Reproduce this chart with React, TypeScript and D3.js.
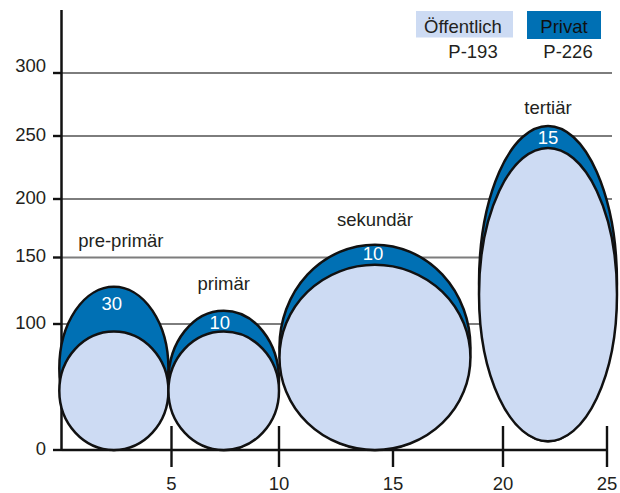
import React from "react";
import * as d3 from "d3";

// ---------- data ----------
const categories = ["pre-primär", "primär", "sekundär", "tertiär"];
const spanStart = [-0.1, 4.86, 10.02, 18.91];
const spanEnd = [4.86, 10.0, 18.52, 25.48];
const baseValues = [0, 0, 0, 7];
const publicValues = [94, 94, 144.5, 240.5];
const totalValues = [128, 110, 161, 258];
const privateShares = [30, 10, 10, 15];
const yTicks = [0, 100, 150, 200, 250, 300];
const xTicks = [5, 10, 15, 20, 25];
const legendLabels = ["Öffentlich", "Privat"];
const legendCodes = ["P-193", "P-226"];

// ---------- layout ----------
const W = 620;
const H = 493;
const xDomain = [0, 5, 10, 15, 20, 25];
const xRange = [61.5, 171.5, 279, 393, 503, 607];
const yDomain = [0, 100, 150, 200, 250, 300];
const yRange = [450, 324, 257.5, 199, 136, 73];
const catLabelGap = [40, 21, 19, 12];
const catLabelDx = [7, 0, 0, 0];
const shareDx = [-2, -4, -2, 0];
const shareDy = [-5, 2, -1, 1];
const yLabelDy: Record<number, number> = { 300: -6 };

const BLUE = "#0070B4";
const LIGHT = "#CDDBF3";
const INK = "#231F20";
const GRID = "#7d7d7d";
const FONT = "'Liberation Sans', Arial, Helvetica, sans-serif";
const FS = 18.5;

export default function App() {
  const x = d3.scaleLinear().domain(xDomain).range(xRange);
  const y = d3.scaleLinear().domain(yDomain).range(yRange);
  const gridEnd = 612;

  const shapes = categories.map((c, i) => {
    const x0 = x(spanStart[i]);
    const x1 = x(spanEnd[i]);
    const cx = (x0 + x1) / 2;
    const rx = (x1 - x0) / 2;
    const bottom = y(baseValues[i]);
    const tTop = y(totalValues[i]);
    const pTop = y(publicValues[i]);
    return {
      c,
      cx,
      rx,
      outer: { cy: (tTop + bottom) / 2, ry: (bottom - tTop) / 2 },
      inner: { cy: (pTop + bottom) / 2, ry: (bottom - pTop) / 2 },
      tTop,
      pTop,
    };
  });

  return (
    <svg
      width={W}
      height={H}
      viewBox={`0 0 ${W} ${H}`}
      style={{ position: "absolute", left: 0, top: 0, background: "#fff" }}
      fontFamily={FONT}
    >
      {/* gridlines */}
      {yTicks
        .filter((t) => t > 0)
        .map((t) => (
          <line key={"g" + t} x1={x(0)} x2={gridEnd} y1={y(t)} y2={y(t)} stroke={GRID} strokeWidth={2} />
        ))}
      {/* y ticks */}
      {yTicks.map((t) => (
        <line key={"yt" + t} x1={53} x2={x(0)} y1={y(t)} y2={y(t)} stroke="#111" strokeWidth={2.4} />
      ))}
      {yTicks.map((t) => (
        <text
          key={"yl" + t}
          x={46}
          y={y(t) + 4.5 + (yLabelDy[t] || 0)}
          textAnchor="end"
          fontSize={FS}
          fill={INK}
        >
          {t}
        </text>
      ))}
      {/* x ticks */}
      {xTicks.map((t) => (
        <line key={"xt" + t} x1={x(t)} x2={x(t)} y1={426} y2={467} stroke="#111" strokeWidth={2.4} />
      ))}
      {xTicks.map((t) => (
        <text key={"xl" + t} x={x(t)} y={490} textAnchor="middle" fontSize={FS} fill={INK}>
          {t}
        </text>
      ))}
      {/* axes */}
      <line x1={x(0)} x2={x(0)} y1={10} y2={451} stroke="#111" strokeWidth={2.5} />
      <line x1={x(0)} x2={x(25)} y1={y(0)} y2={y(0)} stroke="#111" strokeWidth={2.5} />

      {/* ellipses */}
      {shapes.map((s, i) => (
        <g key={"e" + i}>
          <ellipse cx={s.cx} cy={s.outer.cy} rx={s.rx} ry={s.outer.ry} fill={BLUE} stroke="#111" strokeWidth={2.5} />
          <ellipse cx={s.cx} cy={s.inner.cy} rx={s.rx} ry={s.inner.ry} fill={LIGHT} stroke="#111" strokeWidth={2.5} />
        </g>
      ))}

      {/* share labels */}
      {shapes.map((s, i) => (
        <text
          key={"s" + i}
          x={s.cx + shareDx[i]}
          y={(s.tTop + s.pTop) / 2 + 6 + shareDy[i]}
          textAnchor="middle"
          fontSize={FS}
          fill="#fff"
        >
          {privateShares[i]}
        </text>
      ))}
      {/* category labels */}
      {shapes.map((s, i) => (
        <text
          key={"c" + i}
          x={s.cx + catLabelDx[i]}
          y={s.tTop - catLabelGap[i]}
          textAnchor="middle"
          fontSize={FS}
          fill={INK}
        >
          {s.c}
        </text>
      ))}

      {/* legend */}
      <rect x={416} y={11} width={97} height={26.5} fill={LIGHT} />
      <rect x={527} y={11} width={74} height={28} fill={BLUE} />
      <text x={463} y={33} textAnchor="middle" fontSize={FS} fill={INK}>
        {legendLabels[0]}
      </text>
      <text x={564} y={33} textAnchor="middle" fontSize={FS} fill="#111">
        {legendLabels[1]}
      </text>
      <text x={473} y={57.5} textAnchor="middle" fontSize={FS} fill={INK}>
        {legendCodes[0]}
      </text>
      <text x={568} y={57.5} textAnchor="middle" fontSize={FS} fill={INK}>
        {legendCodes[1]}
      </text>
    </svg>
  );
}
